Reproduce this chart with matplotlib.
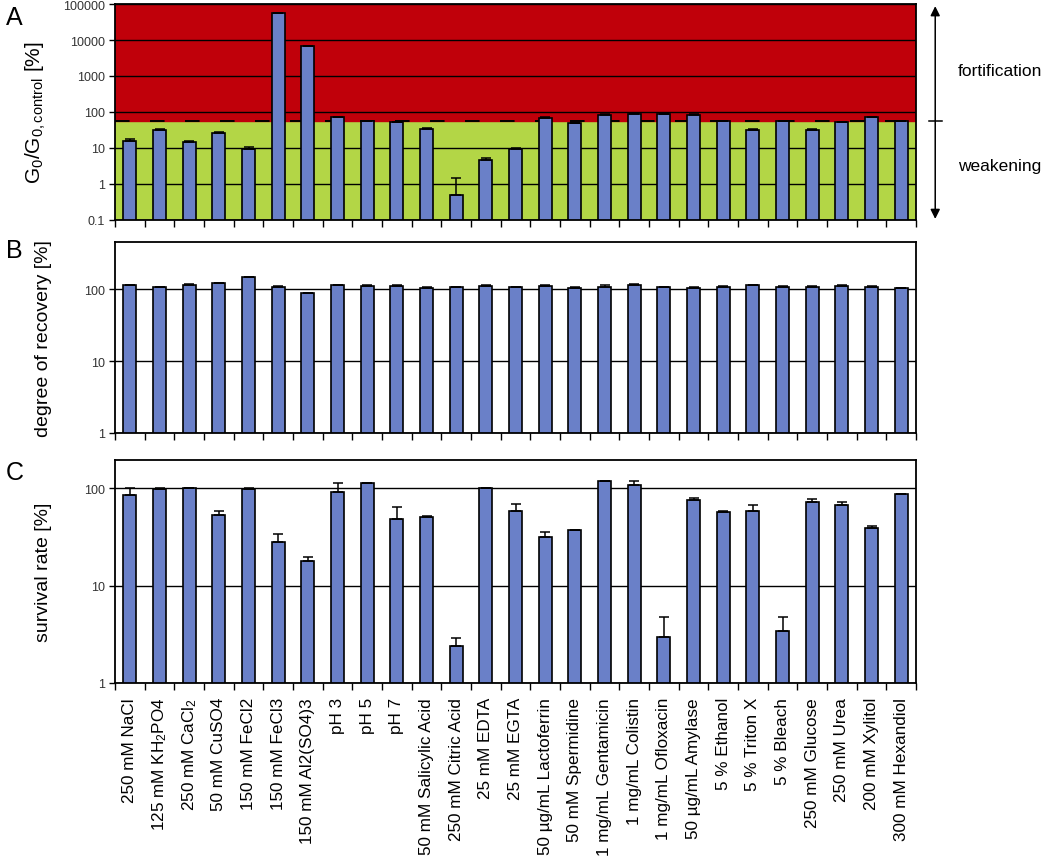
import matplotlib
matplotlib.use("Agg")
import matplotlib.pyplot as plt
from matplotlib.ticker import FixedLocator, FixedFormatter, NullFormatter
import numpy as np

plt.rcParams['font.family'] = ['Liberation Sans', 'DejaVu Sans']
plt.rcParams['mathtext.fontset'] = 'custom'
plt.rcParams['mathtext.rm'] = 'Liberation Sans'
plt.rcParams['mathtext.it'] = 'Liberation Sans:italic'

# conditions
categories = [
    "250 mM NaCl", "125 mM KH$_2$PO4", "250 mM CaCl$_2$", "50 mM CuSO4",
    "150 mM FeCl2", "150 mM FeCl3", "150 mM Al2(SO4)3", "pH 3", "pH 5", "pH 7",
    "50 mM Salicylic Acid", "250 mM Citric Acid", "25 mM EDTA", "25 mM EGTA",
    "50 µg/mL Lactoferrin", "50 mM Spermidine", "1 mg/mL Gentamicin",
    "1 mg/mL Colistin", "1 mg/mL Ofloxacin", "50 µg/mL Amylase", "5 % Ethanol",
    "5 % Triton X", "5 % Bleach", "250 mM Glucose", "250 mM Urea",
    "200 mM Xylitol", "300 mM Hexandiol",
]

# panel A: G0/G0,control [%]
g0_ratio = [16, 32, 14.4, 26, 9.4, 56000, 6700, 71, 55, 53, 34, 0.48, 4.6, 9.5,
            68, 50, 84, 90, 86, 84, 55, 32, 55, 32, 53, 71, 55]
g0_err = [2, 1.5, 1.2, 2, 1, 0, 0, 3, 1, 1, 2, 0.97, 0.7, 0.3,
          3, 1, 3, 3, 3, 4, 1, 2, 1, 1, 1, 3, 1]
threshold = 56

# panel B: degree of recovery [%]
recovery = [112, 106, 115, 120, 145, 106, 87, 112, 110, 110, 103, 106, 110, 106,
            110, 103, 108, 113, 106, 103, 108, 112, 108, 108, 110, 108, 103]
recovery_err = [2, 2, 2, 2, 3, 4, 2, 2, 2, 2, 2, 2, 4, 2,
                4, 2, 4, 5, 2, 3, 2, 2, 2, 2, 4, 2, 1]

# panel C: survival rate [%]
survival = [85, 99, 101, 53, 99, 28, 17.8, 92, 113, 49, 51, 2.4, 101, 58,
            32, 37, 120, 109, 3.0, 76, 57, 59, 3.4, 72, 67, 39.6, 87]
survival_err = [15, 2, 0, 6, 3, 6, 2.1, 22, 1, 16, 0.5, 0.5, 0, 12,
                4, 0.5, 0, 9, 1.8, 3, 2, 9, 1.4, 5, 6, 1.4, 0.5]

log_ticks_a = [0.1, 1, 10, 100, 1000, 10000, 100000]
log_labels_a = ["0.1", "1", "10", "100", "1000", "10000", "100000"]

bar_color = "#6a80c8"
red = "#c0000a"
green = "#b3d646"

fig = plt.figure(figsize=(10.5, 8.62), dpi=100)
left, width = 115 / 1050, 801 / 1050
axA = fig.add_axes([left, 1 - 221 / 862, width, 216 / 862])
axB = fig.add_axes([left, 1 - 434 / 862, width, 191 / 862])
axC = fig.add_axes([left, 1 - 684 / 862, width, 223 / 862])

x = np.arange(len(categories))
n = len(categories)


def style_axis(ax, ticks, labels, ylim):
    ax.set_yscale("log")
    ax.set_ylim(*ylim)
    ax.set_xlim(-0.5, n - 0.5)
    ax.yaxis.set_major_locator(FixedLocator(ticks))
    ax.yaxis.set_major_formatter(FixedFormatter(labels))
    ax.yaxis.set_minor_locator(FixedLocator([]))
    ax.yaxis.set_minor_formatter(NullFormatter())
    ax.tick_params(axis="y", which="major", direction="out", length=4,
                   width=1, labelsize=9, labelcolor="#333333", pad=3)
    ax.set_xticks(x)
    ax.set_xticks(np.arange(-0.5, n, 1.0), minor=True)
    ax.tick_params(axis="x", which="major", length=0)
    ax.tick_params(axis="x", which="minor", direction="out", length=5, width=1)
    for t in ticks:
        ax.axhline(t, color="black", lw=1.0, zorder=1)
    for s in ax.spines.values():
        s.set_linewidth(1.3)
        s.set_zorder(5)


def draw_bars(ax, vals, errs):
    ax.bar(x, vals, width=0.43, color=bar_color, edgecolor="black",
           linewidth=1.2, zorder=3)
    ax.errorbar(x, vals, yerr=[np.zeros(n), errs], fmt="none", ecolor="black",
                elinewidth=1.1, capsize=3.5, capthick=1.1, zorder=4)


# panel A
style_axis(axA, log_ticks_a, log_labels_a, (0.1, 100000))
axA.axhspan(0.1, threshold, color=green, zorder=0)
axA.axhspan(threshold, 100000, color=red, zorder=0)
axA.axhline(threshold, color="black", lw=1.4, ls=(0, (7.5, 10.5)), zorder=2)
draw_bars(axA, g0_ratio, g0_err)
axA.set_xticklabels([])
axA.set_ylabel(r"$\mathrm{G_0/G_{0,control}}$ [%]", fontsize=15)
axA.yaxis.set_label_coords(-0.084, 0.5)

# right-hand annotation
axA.annotate("", xy=(1.024, 0.99), xytext=(1.024, 0.005), xycoords="axes fraction",
             arrowprops=dict(arrowstyle="<|-|>", color="black", lw=1.1,
                             mutation_scale=14, shrinkA=0, shrinkB=0),
             annotation_clip=False)
ty = (np.log10(threshold) + 1) / 6
axA.plot([1.016, 1.032], [ty, ty], transform=axA.transAxes, color="black",
         lw=1.1, clip_on=False)
axA.text(1.105, 0.69, "fortification", transform=axA.transAxes, ha="center",
         va="center", fontsize=12.5)
axA.text(1.105, 0.25, "weakening", transform=axA.transAxes, ha="center",
         va="center", fontsize=12.5)

# panel B
style_axis(axB, [1, 10, 100], ["1", "10", "100"], (1, 450))
draw_bars(axB, recovery, recovery_err)
axB.set_xticklabels([])
axB.set_ylabel("degree of recovery [%]", fontsize=14)
axB.yaxis.set_label_coords(-0.079, 0.5)

# panel C
style_axis(axC, [1, 10, 100], ["1", "10", "100"], (1, 196))
draw_bars(axC, survival, survival_err)
axC.set_xticklabels(categories, rotation=90, fontsize=12.3, va="top", ha="center")
axC.tick_params(axis="x", which="major", pad=10)
axC.set_ylabel("survival rate [%]", fontsize=14)
axC.yaxis.set_label_coords(-0.079, 0.5)

fig.text(0.014, 1 - 18 / 862, "A", fontsize=18, ha="center", va="center")
fig.text(0.014, 1 - 251 / 862, "B", fontsize=18, ha="center", va="center")
fig.text(0.014, 1 - 473 / 862, "C", fontsize=18, ha="center", va="center")

fig.savefig("out.png", dpi=100)
